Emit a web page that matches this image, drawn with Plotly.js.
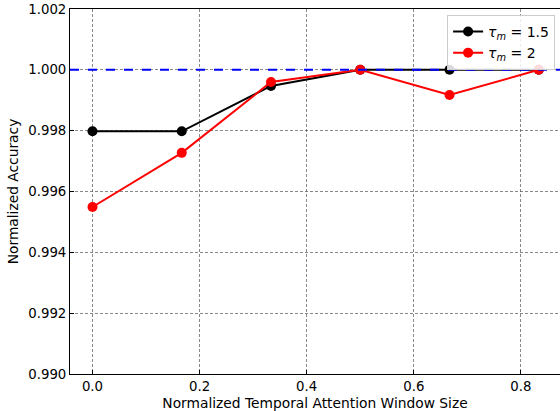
<!DOCTYPE html>
<html><head><meta charset="utf-8">
<script src="https://cdn.plot.ly/plotly-3.0.1.min.js"></script>
<style>html,body{margin:0;padding:0;overflow:hidden;background:#fff}</style>
</head><body>
<div id="chart" style="width:560px;height:411px"></div>
<script>
const windowSizes = [0, 1/6, 2/6, 3/6, 4/6, 5/6];
const accTau15 = [0.99798, 0.99798, 0.99947, 1.0, 1.0, 1.0];
const accTau2 = [0.99549, 0.99727, 0.99960, 1.0, 0.99917, 1.0];
const seriesNames = ['<i>τ<sub>m</sub></i> = 1.5', '<i>τ<sub>m</sub></i> = 2'];
const xTicks = [0, 0.2, 0.4, 0.6, 0.8];
const xTickLabels = ['0.0', '0.2', '0.4', '0.6', '0.8'];
const yTicks = [0.990, 0.992, 0.994, 0.996, 0.998, 1.000, 1.002];
const yTickLabels = ['0.990', '0.992', '0.994', '0.996', '0.998', '1.000', '1.002'];
const refLevel = 1.0;

const traces = [
  {x: windowSizes, y: accTau15, name: seriesNames[0], mode: 'lines+markers',
   line: {color: '#000000', width: 2}, marker: {color: '#000000', size: 10}},
  {x: windowSizes, y: accTau2, name: seriesNames[1], mode: 'lines+markers',
   line: {color: '#ff0000', width: 2}, marker: {color: '#ff0000', size: 10}}
];

const axisCommon = {
  showline: true, linecolor: '#000', linewidth: 1, mirror: true,
  ticks: 'inside', ticklen: 4, tickcolor: '#000', tickwidth: 1,
  showgrid: true, gridcolor: '#555555', gridwidth: 0.7, griddash: '3px,2px',
  zeroline: false, tickfont: {family: 'DejaVu Sans', size: 13.3, color: '#000'}
};

const layout = {
  width: 560, height: 411,
  margin: {l: 70, r: 0, t: 9, b: 37},
  paper_bgcolor: '#fff', plot_bgcolor: '#fff',
  showlegend: true,
  font: {family: 'DejaVu Sans', size: 13, color: '#000'},
  xaxis: Object.assign({}, axisCommon, {
    range: [-0.042, 0.873], tickvals: xTicks, ticktext: xTickLabels,
    title: {text: 'Normalized Temporal Attention Window Size', standoff: 6,
            font: {family: 'DejaVu Sans', size: 13.8, color: '#000'}}
  }),
  yaxis: Object.assign({}, axisCommon, {
    range: [0.990, 1.002], tickvals: yTicks, ticktext: yTickLabels,
    title: {text: 'Normalized Accuracy', standoff: 6,
            font: {family: 'DejaVu Sans', size: 13.8, color: '#000'}}
  }),
  legend: {x: 0.99, y: 0.984, xanchor: 'right', yanchor: 'top',
           bgcolor: 'rgba(255,255,255,0.85)', bordercolor: '#cccccc', borderwidth: 1,
           font: {family: 'DejaVu Sans', size: 14, color: '#000'}},
  shapes: [{type: 'line', xref: 'paper', x0: 0, x1: 1, yref: 'y', y0: refLevel, y1: refLevel,
            line: {color: '#0000ff', width: 2, dash: 'dash'}, layer: 'above'}]
};

Plotly.newPlot('chart', traces, layout, {displayModeBar: false, staticPlot: true});
</script>
</body></html>
